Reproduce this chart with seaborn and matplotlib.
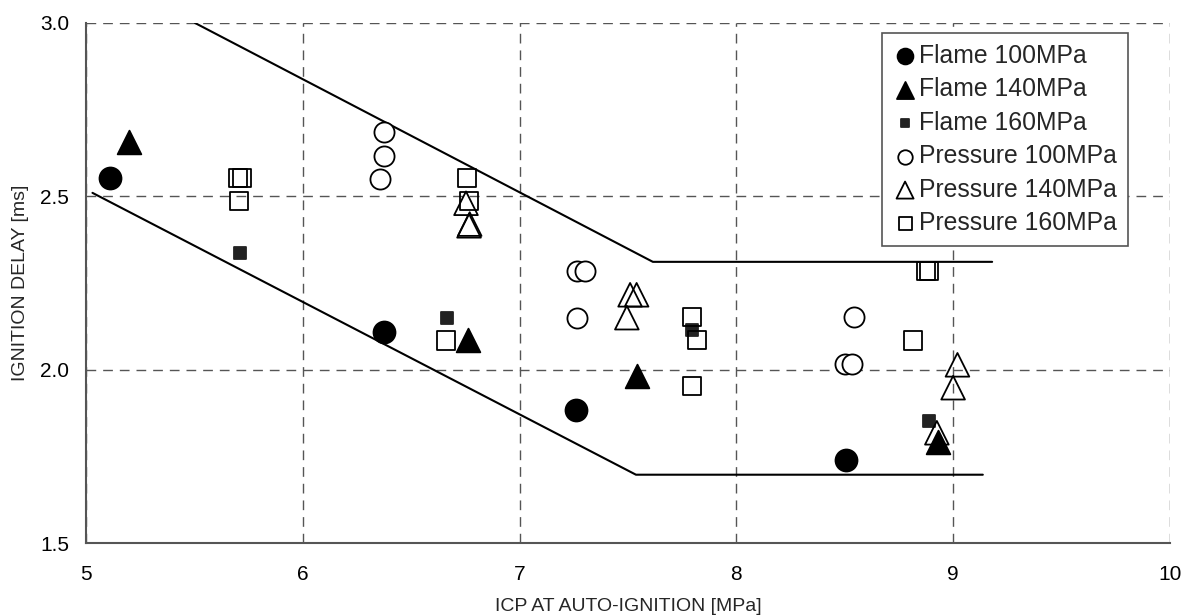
import matplotlib
matplotlib.use("Agg")
import matplotlib.pyplot as plt
from matplotlib.ticker import MultipleLocator, FormatStrFormatter
import seaborn as sns
import pandas as pd

# values
flame100_x = [5.11, 6.375, 7.26, 8.505]
flame100_y = [2.553, 2.11, 1.885, 1.738]
flame140_x = [5.20, 6.76, 7.54, 8.93]
flame140_y = [2.657, 2.086, 1.983, 1.790]
flame160_x = [5.71, 6.665, 7.795, 8.89]
flame160_y = [2.337, 2.150, 2.115, 1.853]
press100_x = [6.375, 6.375, 6.356, 7.265, 7.30, 7.265, 8.50, 8.533, 8.543]
press100_y = [2.686, 2.617, 2.550, 2.285, 2.285, 2.150, 2.017, 2.017, 2.153]
press140_x = [6.753, 6.767, 6.77, 7.51, 7.54, 7.495, 9.02, 9.00, 8.925]
press140_y = [2.480, 2.415, 2.420, 2.216, 2.216, 2.150, 2.014, 1.948, 1.818]
press160_x = [5.70, 5.72, 5.706, 6.757, 6.767, 6.66, 7.795, 7.818, 7.795, 8.815, 8.875, 8.89]
press160_y = [2.553, 2.553, 2.487, 2.553, 2.487, 2.084, 2.153, 2.086, 1.954, 2.084, 2.285, 2.285]
upper_x = [5.503, 7.615, 9.18]
upper_y = [3.0, 2.311, 2.311]
lower_x = [5.03, 7.537, 9.137]
lower_y = [2.51, 1.697, 1.697]

sns.set_style("white")
plt.rcParams['font.family'] = ['Liberation Sans', 'DejaVu Sans']

fig = plt.figure(figsize=(11.84, 6.16), dpi=100)
ax = fig.add_axes([0.0726, 0.1185, 0.9155, 0.8442])

ax.plot(upper_x, upper_y, color='black', lw=1.5, zorder=2)
ax.plot(lower_x, lower_y, color='black', lw=1.5, zorder=2)

series = [
    ('Flame 100MPa', flame100_x, flame100_y, 'o', 250, 'black', 'black'),
    ('Flame 140MPa', flame140_x, flame140_y, '^', 290, 'black', 'black'),
    ('Flame 160MPa', flame160_x, flame160_y, 's', 70, '#222222', '#222222'),
    ('Pressure 100MPa', press100_x, press100_y, 'o', 210, 'white', 'black'),
    ('Pressure 140MPa', press140_x, press140_y, '^', 290, 'none', 'black'),
    ('Pressure 160MPa', press160_x, press160_y, 's', 170, 'none', 'black'),
]
for name, xs, ys, mk, sz, fc, ec in series:
    df = pd.DataFrame({'icp': xs, 'delay': ys})
    sns.scatterplot(data=df, x='icp', y='delay', marker=mk, s=sz,
                    facecolor=fc, edgecolor=ec, linewidth=1.3,
                    label=name, ax=ax, zorder=3)

ax.set_xlim(5, 10)
ax.set_ylim(1.5, 3.0)
ax.xaxis.set_major_locator(MultipleLocator(1))
ax.xaxis.set_minor_locator(MultipleLocator(0.25))
ax.yaxis.set_major_locator(MultipleLocator(0.5))
ax.yaxis.set_minor_locator(MultipleLocator(0.1))
ax.yaxis.set_major_formatter(FormatStrFormatter('%.1f'))
ax.tick_params(which='major', direction='inout', length=12, width=1.2,
               colors='black', labelsize=15, pad=6)
ax.tick_params(which='minor', direction='in', length=6, width=1, colors='black')
ax.tick_params(axis='x', which='major', pad=10)

ax.grid(True, which='major', color='#555555', linestyle=(0, (7, 5)), lw=1)
for side in ['top', 'right']:
    ax.spines[side].set_visible(False)
for side in ['left', 'bottom']:
    ax.spines[side].set_color('#555555')
    ax.spines[side].set_linewidth(1.5)

ax.set_xlabel('ICP AT AUTO-IGNITION [MPa]', fontsize=14, labelpad=10)
ax.set_ylabel('IGNITION DELAY [ms]', fontsize=14, labelpad=8)

leg = ax.legend(loc='upper left', bbox_to_anchor=(0.734, 0.981), fontsize=17.8,
                frameon=True, fancybox=False, edgecolor='#555555', framealpha=1,
                handletextpad=0.05, handlelength=1.0, labelspacing=0.38,
                borderpad=0.45, markerscale=0.72, borderaxespad=0)
leg.get_frame().set_linewidth(1.2)
leg.set_zorder(5)

fig.savefig('out.png', dpi=100)
